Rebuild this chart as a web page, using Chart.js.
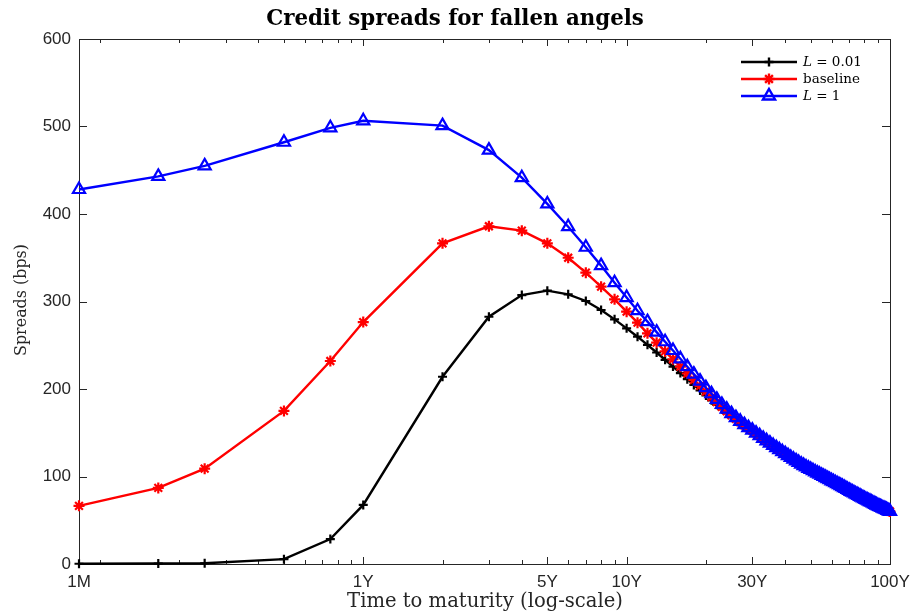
<!DOCTYPE html>
<html>
<head>
<meta charset="utf-8">
<script src="https://cdn.jsdelivr.net/npm/chart.js@4.4.0/dist/chart.umd.min.js"></script>
<style>
  html, body { margin: 0; padding: 0; background: #fff; }
  #wrap { width: 912px; height: 613px; }
</style>
</head>
<body>
<div id="wrap"><canvas id="myChart" width="912" height="613"></canvas></div>
<script>
// time to maturity in years: 1M, 2M, 3M, 6M, 9M, then 1Y ... 100Y
const maturities = [
  1/12, 2/12, 3/12, 6/12, 9/12,
  1, 2, 3, 4, 5, 6, 7, 8, 9, 10, 11, 12, 13, 14, 15, 16, 17, 18, 19, 20,
  21, 22, 23, 24, 25, 26, 27, 28, 29, 30, 31, 32, 33, 34, 35, 36, 37, 38, 39, 40,
  41, 42, 43, 44, 45, 46, 47, 48, 49, 50, 51, 52, 53, 54, 55, 56, 57, 58, 59, 60,
  61, 62, 63, 64, 65, 66, 67, 68, 69, 70, 71, 72, 73, 74, 75, 76, 77, 78, 79, 80,
  81, 82, 83, 84, 85, 86, 87, 88, 89, 90, 91, 92, 93, 94, 95, 96, 97, 98, 99, 100
];

// spreads (bps) up to 30Y, one list per curve
const spreadsLow = [
  0.3, 0.5, 0.8, 5.5, 28.5,
  67.5, 214, 282.6, 307.4, 312.4, 308.2, 300.6, 290.3, 279.6, 269.3,
  259.8, 250.5, 241.7, 233.4, 225.6, 218.2, 211.2, 204.6, 198.4, 192.6,
  187.1, 181.9, 177.0, 172.5, 168.3, 164.4, 160.9, 157.7, 154.8, 152.1
];
const spreadsBase = [
  66.5, 87, 109, 175, 232,
  276.5, 366.5, 386, 381, 366.5, 350, 333, 317, 302.5, 288.4,
  275.8, 263.6, 253, 243, 234, 225.5, 217.7, 210.4, 203.5, 197,
  190.8, 185, 179.6, 174.6, 170, 165.8, 162, 158.5, 155.4, 152.5
];
const spreadsHigh = [
  428, 443, 455, 482, 498.5,
  506.5, 501, 473, 441.5, 411.5, 385.5, 362, 341, 321.5, 304.5,
  289.5, 277, 265, 254, 244, 234.5, 225.5, 217, 209, 201.5,
  194.6, 188.2, 182.3, 176.9, 171.9, 167.3, 163.1, 159.3, 155.9, 153
];
// 31Y..100Y, where the three curves lie on top of each other
const spreadsTail = [
  149.6, 146.6, 143.6, 140.8, 138.1, 135.5, 133.0, 130.6, 128.3, 126.1,
  123.9, 121.8, 119.8, 117.9, 116.0, 114.2, 112.5, 110.9, 109.4, 108.0,
  106.6, 105.2, 103.9, 102.6, 101.3, 100.0, 98.8, 97.6, 96.3, 95.1,
  94.0, 92.9, 91.8, 90.7, 89.6, 88.5, 87.4, 86.3, 85.2, 84.1,
  83.1, 82.1, 81.2, 80.2, 79.3, 78.3, 77.4, 76.4, 75.5, 74.6,
  73.8, 73.0, 72.2, 71.4, 70.6, 69.8, 69.0, 68.2, 67.4, 66.6,
  65.9, 65.2, 64.6, 63.9, 63.3, 62.6, 62.0, 61.3, 60.7, 60.0
];

const xMajorTicks = [1/12, 1, 5, 10, 30, 100];
const xMajorLabels = ["1M", "1Y", "5Y", "10Y", "30Y", "100Y"];
const xMinorTicks = [0.1, 0.2, 0.3, 0.4, 0.5, 0.6, 0.7, 0.8, 0.9,
  2, 3, 4, 6, 7, 8, 9, 20, 40, 50, 60, 70, 80, 90];
const yTicks = [0, 100, 200, 300, 400, 500, 600];

const seriesNames = ["L = 0.01", "baseline", "L = 1"];
const seriesColors = ["#000000", "#ff0000", "#0000ff"];

function toPoints(values) {
  return maturities.map(function (t, i) {
    return { x: t, y: values[i] };
  });
}

const axisColor = "#262626";
const serif = "'DejaVu Serif'";

// box round the plot with inward ticks, like the original figure
const axisFrame = {
  id: "axisFrame",
  beforeDatasetsDraw(chart) {
    const ctx = chart.ctx;
    const a = chart.chartArea;
    const xs = chart.scales.x;
    const ys = chart.scales.y;
    ctx.save();
    ctx.strokeStyle = axisColor;
    ctx.lineWidth = 1;
    ctx.strokeRect(a.left + 0.5, a.top + 0.5, a.right - a.left, a.bottom - a.top);
    ctx.beginPath();
    yTicks.forEach(function (v) {
      const py = Math.round(ys.getPixelForValue(v)) + 0.5;
      ctx.moveTo(a.left, py); ctx.lineTo(a.left + 8, py);
      ctx.moveTo(a.right, py); ctx.lineTo(a.right - 8, py);
    });
    xMajorTicks.forEach(function (v) {
      const px = Math.round(xs.getPixelForValue(v)) + 0.5;
      ctx.moveTo(px, a.bottom); ctx.lineTo(px, a.bottom - 7);
      ctx.moveTo(px, a.top); ctx.lineTo(px, a.top + 7);
    });
    xMinorTicks.forEach(function (v) {
      const px = Math.round(xs.getPixelForValue(v)) + 0.5;
      ctx.moveTo(px, a.bottom); ctx.lineTo(px, a.bottom - 4);
      ctx.moveTo(px, a.top); ctx.lineTo(px, a.top + 4);
    });
    ctx.stroke();
    ctx.restore();
  }
};

function fitFont(ctx, text, weight, family, width) {
  ctx.font = weight + " 100px " + family;
  return 100 * width / ctx.measureText(text).width;
}

function drawMarker(ctx, style, x, y, r) {
  ctx.beginPath();
  if (style === "cross") {
    ctx.moveTo(x - r, y); ctx.lineTo(x + r, y);
    ctx.moveTo(x, y - r); ctx.lineTo(x, y + r);
  } else if (style === "star") {
    for (let k = 0; k < 4; k++) {
      const ang = k * Math.PI / 4;
      ctx.moveTo(x - r * Math.cos(ang), y - r * Math.sin(ang));
      ctx.lineTo(x + r * Math.cos(ang), y + r * Math.sin(ang));
    }
  } else {
    ctx.moveTo(x, y - r);
    ctx.lineTo(x + r * Math.sin(2 * Math.PI / 3), y - r * Math.cos(2 * Math.PI / 3));
    ctx.lineTo(x - r * Math.sin(2 * Math.PI / 3), y - r * Math.cos(2 * Math.PI / 3));
    ctx.closePath();
  }
  ctx.stroke();
}

const figureText = {
  id: "figureText",
  afterDraw(chart) {
    const ctx = chart.ctx;
    ctx.save();
    ctx.fillStyle = "#000";
    ctx.textAlign = "center";
    ctx.textBaseline = "alphabetic";

    const title = "Credit spreads for fallen angels";
    let size = fitFont(ctx, title, "bold", serif, 378);
    ctx.font = "bold " + size + "px " + serif;
    ctx.fillText(title, 455, 25);

    ctx.fillStyle = axisColor;
    const xTitle = "Time to maturity (log-scale)";
    size = fitFont(ctx, xTitle, "normal", serif, 276);
    ctx.font = size + "px " + serif;
    ctx.fillText(xTitle, 485, 607);

    const yTitle = "Spreads (bps)";
    size = fitFont(ctx, yTitle, "normal", serif, 112);
    ctx.font = size + "px " + serif;
    ctx.translate(26, 300);
    ctx.rotate(-Math.PI / 2);
    ctx.fillText(yTitle, 0, 0);
    ctx.restore();

    // legend
    ctx.save();
    const rows = [62, 79, 96];
    const styles = ["cross", "star", "triangle"];
    const radii = [4.5, 5.5, 7];
    const legendSize = fitFont(ctx, "baseline", "normal", serif, 57);
    rows.forEach(function (ry, i) {
      ctx.strokeStyle = seriesColors[i];
      ctx.lineWidth = 2.4;
      ctx.beginPath();
      ctx.moveTo(741, ry); ctx.lineTo(797, ry);
      ctx.stroke();
      drawMarker(ctx, styles[i], 769, ry, radii[i]);
      ctx.fillStyle = "#000";
      ctx.textBaseline = "middle";
      ctx.textAlign = "left";
      const name = seriesNames[i];
      if (name.charAt(0) === "L") {
        ctx.font = "italic " + legendSize + "px " + serif;
        ctx.fillText("L", 803, ry);
        const w = ctx.measureText("L").width;
        ctx.font = legendSize + "px " + serif;
        ctx.fillText(name.slice(1), 803 + w, ry);
      } else {
        ctx.font = legendSize + "px " + serif;
        ctx.fillText(name, 803, ry);
      }
    });
    ctx.restore();
  }
};

const ctx = document.getElementById("myChart").getContext("2d");

new Chart(ctx, {
  type: "line",
  data: {
    datasets: [
      {
        label: seriesNames[0],
        data: toPoints(spreadsLow.concat(spreadsTail)),
        borderColor: seriesColors[0],
        borderWidth: 2.4,
        pointStyle: "cross",
        pointRadius: 4.5,
        pointBorderWidth: 2.2,
        pointBorderColor: seriesColors[0],
        pointBackgroundColor: seriesColors[0],
        clip: false,
        order: 3
      },
      {
        label: seriesNames[1],
        data: toPoints(spreadsBase.concat(spreadsTail)),
        borderColor: seriesColors[1],
        borderWidth: 2.4,
        pointStyle: "star",
        pointRadius: 5.5,
        pointBorderWidth: 2.2,
        pointBorderColor: seriesColors[1],
        pointBackgroundColor: seriesColors[1],
        clip: false,
        order: 2
      },
      {
        label: seriesNames[2],
        data: toPoints(spreadsHigh.concat(spreadsTail)),
        borderColor: seriesColors[2],
        borderWidth: 2.4,
        pointStyle: "triangle",
        pointRadius: 7,
        pointBorderWidth: 2.2,
        pointBorderColor: seriesColors[2],
        pointBackgroundColor: "rgba(0,0,0,0)",
        clip: false,
        order: 1
      }
    ]
  },
  options: {
    responsive: false,
    animation: false,
    events: [],
    layout: { padding: { left: 0, right: 22, top: 39, bottom: 0 } },
    plugins: {
      legend: { display: false },
      title: { display: false },
      tooltip: { enabled: false }
    },
    scales: {
      x: {
        type: "logarithmic",
        min: 1/12,
        max: 100,
        grid: { display: false, drawTicks: false },
        border: { display: false },
        afterBuildTicks: function (scale) {
          scale.ticks = xMajorTicks.map(function (v) { return { value: v }; });
        },
        afterFit: function (scale) {
          scale.height = 49;
          scale.paddingLeft = 0;
          scale.paddingRight = 0;
        },
        ticks: {
          autoSkip: false,
          maxRotation: 0,
          padding: 8,
          color: axisColor,
          font: { family: "'Liberation Sans'", size: 17 },
          callback: function (value) {
            const i = xMajorTicks.indexOf(value);
            return i >= 0 ? xMajorLabels[i] : "";
          }
        }
      },
      y: {
        type: "linear",
        min: 0,
        max: 600,
        grid: { display: false, drawTicks: false },
        border: { display: false },
        afterFit: function (scale) {
          scale.width = 79;
          scale.paddingTop = 0;
          scale.paddingBottom = 0;
        },
        ticks: {
          stepSize: 100,
          padding: 8,
          color: axisColor,
          font: { family: "'Liberation Sans'", size: 17 }
        }
      }
    }
  },
  plugins: [axisFrame, figureText]
});
</script>
</body>
</html>
